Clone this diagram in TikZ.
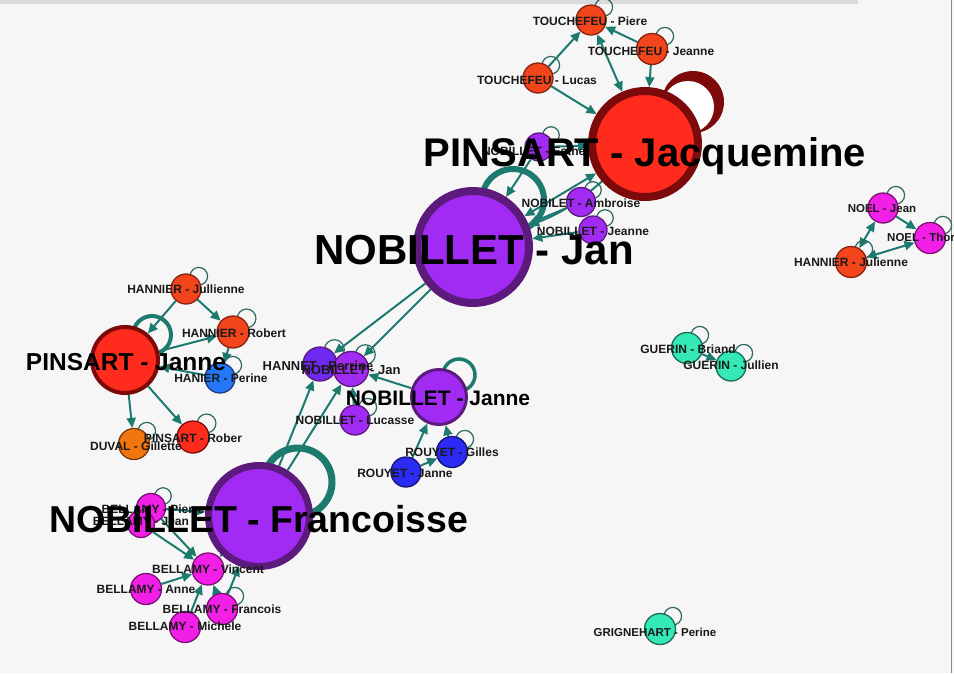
\documentclass[tikz,border=0pt]{standalone}
\usepackage{fontspec}
\setmainfont{Liberation Sans}
\usetikzlibrary{arrows.meta}

\definecolor{paper}{HTML}{F7F6F6}
\definecolor{rim}{HTML}{DADADA}
\definecolor{rimdark}{HTML}{8C8C8C}
\definecolor{edgeteal}{HTML}{1C7A6F}
\definecolor{loopteal}{HTML}{2A6A62}
\definecolor{redfill}{HTML}{FF2C1D}
\definecolor{reddark}{HTML}{7C0A0A}
\definecolor{flamefill}{HTML}{F2451B}
\definecolor{flamedark}{HTML}{8A2210}
\definecolor{purplefill}{HTML}{A22BF3}
\definecolor{purpledark}{HTML}{5C1A7C}
\definecolor{pinkfill}{HTML}{F21FE6}
\definecolor{pinkdark}{HTML}{7C1276}
\definecolor{skyfill}{HTML}{2478F6}
\definecolor{skydark}{HTML}{1A3C88}
\definecolor{navyfill}{HTML}{2B2BF3}
\definecolor{navydark}{HTML}{151575}
\definecolor{indigofill}{HTML}{7029F0}
\definecolor{amberfill}{HTML}{F2760F}
\definecolor{amberdark}{HTML}{7C3A0C}
\definecolor{mintfill}{HTML}{35E9B6}
\definecolor{mintdark}{HTML}{1B6B57}

\pgfdeclarelayer{back}
\pgfsetlayers{back,main}

\begin{document}
\begin{tikzpicture}[
        x=1pt,
        y=-1pt,
        who/.style={
            circle,
            inner sep=0pt,
            minimum size=#1,
            line width=1.3pt
        },
        rednode/.style={who=#1, fill=redfill, draw=reddark},
        flamenode/.style={who=#1, fill=flamefill, draw=flamedark},
        purplenode/.style={who=#1, fill=purplefill, draw=purpledark},
        pinknode/.style={who=#1, fill=pinkfill, draw=pinkdark},
        skynode/.style={who=#1, fill=skyfill, draw=skydark},
        navynode/.style={who=#1, fill=navyfill, draw=navydark},
        indigonode/.style={who=#1, fill=indigofill, draw=purpledark},
        ambernode/.style={who=#1, fill=amberfill, draw=amberdark},
        mintnode/.style={who=#1, fill=mintfill, draw=mintdark},
        link/.style={
            draw=edgeteal,
            line width=2pt,
            -{Triangle[length=10pt,width=9pt]}
        },
        twoway/.style={
            link,
            {Triangle[length=10pt,width=9pt]}-{Triangle[length=10pt,width=9pt]}
        },
        selfloop/.style={draw=loopteal, line width=1.2pt},
        bigloop/.style={draw=edgeteal, line width=#1},
        nametag/.style={
            font=\bfseries\fontsize{#1}{#1}\selectfont,
            text=black!90,
            inner sep=0pt
        },
        nametag/.default=12,
        headline/.style={
            nametag=#1,
            text=black,
            anchor=base
        }
    ]
        \useasboundingbox (0,0) rectangle (954,673);

        % People: TOUCHEFEU family and PINSART - Jacquemine
        \node[flamenode=30pt] (piere) at (591,20) {};
        \node[flamenode=31pt] (tjeanne) at (652,49) {};
        \node[flamenode=30pt] (lucas) at (538,78) {};
        \node[rednode=106pt, line width=8pt] (jacq) at (645,144) {};
        \node[purplenode=28pt] (esther) at (539,147) {};
        \node[purplenode=29pt] (ambroise) at (581,202) {};
        \node[purplenode=28pt] (njeanne) at (593,230) {};
        \node[purplenode=112pt, line width=8pt] (jan) at (473,247) {};

        % NOEL group
        \node[pinknode=30pt] (noeljean) at (883,208) {};
        \node[pinknode=31pt] (noelthor) at (930,238) {};
        \node[flamenode=31pt] (hjulienne) at (851,262) {};

        % HANNIER group and PINSART - Janne
        \node[flamenode=30pt] (jullienne) at (186,289) {};
        \node[flamenode=32pt] (robert) at (233,332) {};
        \node[rednode=66pt, line width=4pt] (pjanne) at (125,360) {};
        \node[skynode=30pt] (perine) at (220,378) {};
        \node[ambernode=31pt] (duval) at (134,444) {};
        \node[rednode=32pt] (rober) at (193,437) {};

        % middle: NOBILLET - Janne and ROUYET
        \node[indigonode=34pt] (hannet) at (320,364) {};
        \node[purplenode=35pt] (njan) at (351,369) {};
        \node[purplenode=55pt, line width=3pt] (njanne) at (439,397) {};
        \node[purplenode=30pt] (lucasse) at (355,420) {};
        \node[navynode=31pt] (gilles) at (452,452) {};
        \node[navynode=30pt] (rjanne) at (406,472) {};

        % NOBILLET - Francoisse and BELLAMY family
        \node[purplenode=101pt, line width=7pt] (franc) at (259,516) {};
        \node[pinknode=29pt] (bpierre) at (151,508) {};
        \node[pinknode=27pt] (bjean) at (141,524) {};
        \node[pinknode=32pt] (vincent) at (208,569) {};
        \node[pinknode=31pt] (anne) at (146,589) {};
        \node[pinknode=31pt] (francois) at (222,609) {};
        \node[pinknode=31pt] (michele) at (185,627) {};

        % GUERIN and GRIGNEHART
        \node[mintnode=31pt] (briand) at (687,348) {};
        \node[mintnode=30pt] (jullien) at (731,366) {};
        \node[mintnode=31pt] (grigne) at (660,629) {};

        \begin{pgfonlayer}{back}
            \fill[paper] (0,0) rectangle (954,673);
            \fill[rim] (0,0) rectangle (858,4);
            \draw[rimdark, line width=1.5pt] (951.5,0) -- (951.5,673);

            % links
            \draw[link] (lucas) -- (piere);
            \draw[link] (tjeanne) -- (piere);
            \draw[twoway] (piere) -- (jacq);
            \draw[link] (tjeanne) -- (jacq);
            \draw[link] (lucas) -- (jacq);
            \draw[link] (esther) -- (jacq);
            \draw[twoway] (jan) -- (jacq);
            \draw[link] (jacq) to[bend left=10] (jan);
            \draw[link] (ambroise) -- (jan);
            \draw[link] (njeanne) -- (jan);
            \draw[link] (esther) -- (jan);

            \draw[link] (noeljean) -- (noelthor);
            \draw[twoway] (noeljean) -- (hjulienne);
            \draw[twoway] (noelthor) -- (hjulienne);

            \draw[link] (jullienne) -- (pjanne);
            \draw[link] (jullienne) -- (robert);
            \draw[link] (pjanne) -- (robert);
            \draw[link] (robert) -- (perine);
            \draw[link] (perine) -- (pjanne);
            \draw[link] (pjanne) -- (duval);
            \draw[link] (pjanne) -- (rober);

            \draw[link] (jan) -- (hannet);
            \draw[link] (jan) -- (njan);
            \draw[link] (franc) -- (hannet);
            \draw[link] (franc) -- (njan);
            \draw[link] (njanne) -- (njan);
            \draw[link] (lucasse) -- (njan);
            \draw[link] (rjanne) -- (njanne);
            \draw[link] (gilles) -- (njanne);
            \draw[link] (rjanne) -- (gilles);

            \draw[link] (bpierre) -- (vincent);
            \draw[link] (bjean) -- (vincent);
            \draw[link] (anne) -- (vincent);
            \draw[link] (michele) -- (vincent);
            \draw[link] (francois) -- (vincent);
            \draw[link] (francois) -- (franc);
            \draw[link] (franc) -- (vincent);
            \draw[link] (bpierre) -- (franc);

            \draw[link] (briand) -- (jullien);

            % self loops
            \foreach \n/\r in {
                piere/16,tjeanne/16,lucas/16,esther/15,ambroise/15,
                njeanne/15,noeljean/16,noelthor/16,hjulienne/16,
                jullienne/16,robert/17,perine/16,rober/17,duval/16,
                hannet/18,njan/18,lucasse/16,gilles/16,bpierre/15,
                francois/16,briand/16,jullien/16,grigne/16
            }
                \draw[selfloop] (\n.center) ++(0.8*\r,-0.8*\r)
                    circle[radius=0.55*\r];

            \draw[bigloop=6pt] (513,200) circle[radius=31];
            \draw[bigloop=7pt] (298,482) circle[radius=34];
            \draw[bigloop=4pt] (152,335) circle[radius=19];
            \draw[bigloop=3.5pt] (459,375) circle[radius=16];

            % loop of PINSART - Jacquemine
            \fill[reddark] (693,102) circle[radius=31];
            \fill[white] (688,107) circle[radius=26];
        \end{pgfonlayer}

        % names
        \node[nametag] (t-piere) at (590,21) {TOUCHEFEU - Piere};
        \node[nametag] (t-tjeanne) at (651,51) {TOUCHEFEU - Jeanne};
        \node[nametag] (t-lucas) at (537,80) {TOUCHEFEU - Lucas};
        \node[nametag] (t-esther) at (536,151) {NOBILLET - Esther};
        \node[nametag] (t-ambroise) at (581,203) {NOBILET - Ambroise};
        \node[nametag] (t-njeanne) at (593,231) {NOBILLET - Jeanne};

        \node[nametag=11.5] (t-noeljean) at (882,209) {NOEL - Jean};
        \node[nametag=11.5, anchor=west] (t-noelthor) at (887,237)
            {NOEL - Thor};
        \node[nametag] (t-hjulienne) at (851,262) {HANNIER - Julienne};

        \node[nametag] (t-jullienne) at (186,289) {HANNIER - Jullienne};
        \node[nametag] (t-robert) at (234,333) {HANNIER - Robert};
        \node[nametag] (t-perine) at (221,378) {HANIER - Perine};
        \node[nametag] (t-duval) at (136,446) {DUVAL - Gillette};
        \node[nametag] (t-rober) at (193,438) {PINSART - Rober};

        \node[nametag=13] (t-hannet) at (318,366) {HANNET - Perrine};
        \node[nametag=13] (t-njan) at (351,370) {NOBILLET - Jan};
        \node[nametag] (t-lucasse) at (355,420) {NOBILLET - Lucasse};
        \node[nametag] (t-gilles) at (452,452) {ROUYET - Gilles};
        \node[nametag] (t-rjanne) at (405,473) {ROUYET - Janne};

        \node[nametag] (t-bpierre) at (153,509) {BELLAMY - Pierre};
        \node[nametag] (t-bjean) at (141,521) {BELLAMY - Jean};
        \node[nametag] (t-vincent) at (208,569) {BELLAMY - Vincent};
        \node[nametag] (t-anne) at (146,589) {BELLAMY - Anne};
        \node[nametag] (t-francois) at (222,609) {BELLAMY - Francois};
        \node[nametag] (t-michele) at (185,626) {BELLAMY - Michele};

        \node[nametag] (t-briand) at (688,349) {GUERIN - Briand};
        \node[nametag] (t-jullien) at (731,365) {GUERIN - Jullien};
        \node[nametag=11.5] (t-grigne) at (655,632) {GRIGNEHART - Perine};

        % big names
        \node[headline=40] (t-jacq) at (645,166) {PINSART - Jacquemine};
        \node[headline=42] (t-jan) at (474,264) {NOBILLET - Jan};
        \node[headline=37.5] (t-franc) at (259,532) {NOBILLET - Francoisse};
        \node[headline=24.5] (t-pjanne) at (126,370) {PINSART - Janne};
        \node[headline=21] (t-njanne) at (438,405) {NOBILLET - Janne};
    \end{tikzpicture}
\end{document}
